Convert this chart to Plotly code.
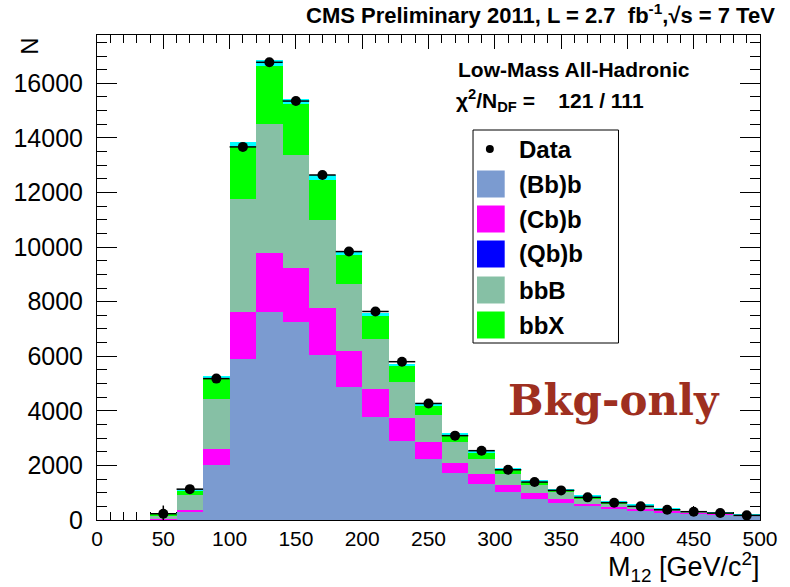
import plotly.graph_objects as go

# 20 GeV bins from 0 to 500, values given at bin centres
bin_centers = [10, 30, 50, 70, 90, 110, 130, 150, 170, 190, 210, 230, 250,
               270, 290, 310, 330, 350, 370, 390, 410, 430, 450, 470, 490]

# stacked background components (events per bin)
bb_b = [0, 0, 20, 320, 2000, 5910, 7620, 7240, 6050, 4860, 3790, 2900, 2230,
        1740, 1330, 1010, 780, 620, 500, 405, 340, 280, 240, 195, 157]
cb_b = [0, 0, 10, 60, 610, 1710, 2160, 2010, 1720, 1350, 1020, 820, 610,
        345, 355, 280, 210, 150, 100, 70, 65, 60, 35, 35, 25]
qb_b = [0, 0, 0, 0, 0, 0, 0, 0, 0, 0, 0, 0, 0,
        0, 0, 0, 0, 0, 0, 0, 0, 0, 0, 0, 0]
bbB = [0, 0, 150, 550, 1820, 4140, 4730, 4125, 3225, 2440, 1820, 1320, 990,
       755, 560, 405, 300, 255, 205, 145, 95, 40, 25, 25, 12]
bbX = [0, 0, 40, 160, 745, 1900, 2125, 1870, 1465, 1050, 830, 610, 355,
       300, 230, 145, 120, 85, 60, 60, 35, 25, 15, 12, 10]
other = [0, 0, 15, 60, 115, 180, 220, 180, 185, 120, 120, 65, 100,
         60, 60, 40, 30, 25, 20, 15, 15, 10, 10, 8, 6]

# observed data
data_x = [50, 70, 90, 110, 130, 150, 170, 190, 210, 230, 250, 270, 290,
          310, 330, 350, 370, 390, 410, 430, 450, 470, 490]
data_y = [230, 1130, 5180, 13670, 16770, 15350, 12640, 9835, 7640, 5800, 4270, 3090, 2540,
          1840, 1390, 1085, 830, 635, 500, 375, 305, 255, 170]
data_err = [300, 34, 72, 117, 129, 124, 112, 99, 87, 76, 65, 56, 50,
            43, 37, 33, 29, 25, 22, 19, 17, 16, 13]

components = [
    ("(Bb)b", bb_b, "#7b9bd0"),
    ("(Cb)b", cb_b, "#ff00ff"),
    ("(Qb)b", qb_b, "#0000ff"),
    ("bbB", bbB, "#86c0a5"),
    ("bbX", bbX, "#00ff00"),
    ("other", other, "#00ffff"),
]

FONT = "Liberation Sans"

fig = go.Figure()
for name, vals, color in components:
    fig.add_trace(go.Bar(
        x=bin_centers, y=vals, width=20, name=name, showlegend=False,
        marker=dict(color=color, line=dict(width=0)),
    ))

fig.add_trace(go.Scatter(
    x=data_x, y=data_y, mode="markers", name="Data", showlegend=False,
    marker=dict(color="black", size=10),
    error_x=dict(type="constant", value=10, color="black", thickness=1.5, width=0),
    error_y=dict(type="data", array=data_err, color="black", thickness=1.5, width=0),
))

# frame geometry in pixels
L, R, T, B = 97, 767, 35, 520
W, H = 790, 587


def px(x):
    return (x - L) / (R - L)


def py(y):
    return (B - y) / (B - T)


fig.update_layout(
    width=W, height=H,
    margin=dict(l=L, r=W - R, t=T, b=H - B),
    barmode="stack", bargap=0,
    plot_bgcolor="white", paper_bgcolor="white",
    showlegend=False,
    xaxis=dict(
        range=[0, 500], tick0=0, dtick=50, ticks="inside", ticklen=14,
        tickcolor="black", tickwidth=1, showline=True, linecolor="black",
        linewidth=1, mirror="ticks", showgrid=False, zeroline=False,
        minor=dict(dtick=10, ticks="inside", ticklen=8, tickcolor="black"),
        tickfont=dict(family=FONT, size=21, color="black"),
        layer="below traces",
    ),
    yaxis=dict(
        range=[0, 17770], tick0=0, dtick=2000, ticks="inside", ticklen=20,
        tickcolor="black", tickwidth=1, showline=True, linecolor="black",
        linewidth=1, mirror="ticks", showgrid=False, zeroline=False,
        minor=dict(dtick=500, ticks="inside", ticklen=10, tickcolor="black"),
        tickfont=dict(family=FONT, size=25, color="black"),
        tickformat="d",
        ticklabelstandoff=8,
    ),
)

ann = []
ann.append(dict(text="<b>CMS Preliminary 2011, L = 2.7\u00a0 fb<sup>-1</sup>,√s = 7 TeV</b>",
                x=px(784), y=py(14), xanchor="right", yanchor="middle",
                font=dict(family=FONT, size=22, color="black")))
ann.append(dict(text="N", textangle=-90, x=px(28), y=py(46), xanchor="center", yanchor="middle",
                font=dict(family=FONT, size=24, color="black")))
ann.append(dict(text="M<sub>12</sub> [GeV/c<sup>2</sup>]", x=px(769), y=py(567),
                xanchor="right", yanchor="middle",
                font=dict(family=FONT, size=27, color="black")))
ann.append(dict(text="<b>Low-Mass All-Hadronic</b>", x=px(460), y=py(70),
                xanchor="left", yanchor="middle",
                font=dict(family=FONT, size=21, color="black")))
ann.append(dict(text="<b>χ<sup>2</sup>/N<sub>DF</sub> =\u00a0\u00a0\u00a0 121 / 111</b>",
                x=px(458), y=py(101), xanchor="left", yanchor="middle",
                font=dict(family=FONT, size=21, color="black")))
ann.append(dict(text="<b>Bkg-only</b>", x=px(619), y=py(400), xanchor="center", yanchor="middle",
                font=dict(family="DejaVu Serif", size=42, color="#9e2f20")))

shapes = []
# legend box
shapes.append(dict(type="rect", xref="paper", yref="paper",
                   x0=px(477), x1=px(624), y0=py(343), y1=py(130),
                   line=dict(color="black", width=1), fillcolor="white", layer="above"))
legend_rows = [
    ("Data", None, 149),
    ("(Bb)b", "#7b9bd0", 184),
    ("(Cb)b", "#ff00ff", 219),
    ("(Qb)b", "#0000ff", 254),
    ("bbB", "#86c0a5", 290),
    ("bbX", "#00ff00", 325),
]
for label, color, yc in legend_rows:
    if color is None:
        shapes.append(dict(type="circle", xref="paper", yref="paper",
                           x0=px(490), x1=px(498), y0=py(yc + 4), y1=py(yc - 4),
                           fillcolor="black", line=dict(width=0), layer="above"))
    else:
        shapes.append(dict(type="rect", xref="paper", yref="paper",
                           x0=px(481), x1=px(509), y0=py(yc + 13.5), y1=py(yc - 13.5),
                           fillcolor=color, line=dict(width=0), layer="above"))
    ann.append(dict(text=f"<b>{label}</b>", x=px(521), y=py(yc), xanchor="left",
                    yanchor="middle", font=dict(family=FONT, size=24, color="black")))

for a in ann:
    a.setdefault("xref", "paper")
    a.setdefault("yref", "paper")
    a["showarrow"] = False

fig.update_layout(annotations=ann, shapes=shapes)
fig.write_html("out.html")
